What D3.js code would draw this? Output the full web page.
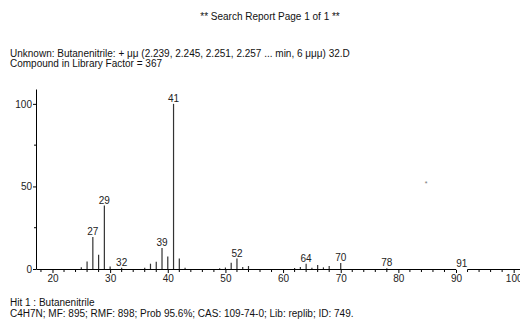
<!DOCTYPE html>
<html>
<head>
<meta charset="utf-8">
<script src="https://cdn.jsdelivr.net/npm/d3@7"></script>
<style>
  html, body { margin: 0; padding: 0; background: #fff; }
  svg { display: block; font-family: "Liberation Sans", Arial, sans-serif; }
  .axis path, .axis line { stroke: #000; }
  .axis text { fill: #222; font-size: 10px; }
</style>
</head>
<body>
<svg id="chart" width="520" height="320"></svg>
<script>
/* ── Data ───────────────────────────────────────────────────────── */
const masses      = [25, 26, 27, 28, 29, 30, 32, 36, 37, 38, 39, 40, 41, 42, 43, 49, 50, 51, 52, 53, 54, 62, 63, 64, 65, 66, 67, 68, 70, 78, 91];
const intensities = [1, 4.6, 19.4, 8.7, 38.4, 1.5, 0.8, 0.8, 3.2, 4.4, 12.7, 7.5, 100, 6.3, 0.8, 0.5, 0.9, 3.8, 6.3, 1.2, 1.8, 0.6, 1.2, 3.2, 0.8, 2.4, 1.0, 1.8, 3.6, 0.5, 0.3];
const labelled    = [27, 29, 32, 39, 41, 52, 64, 70, 78, 91];
const xMajor      = [20, 30, 40, 50, 60, 70, 80, 90, 100];
const yMajor      = [0, 50, 100];
const yMinor      = [25, 75];

const titleText = "** Search Report Page 1 of 1 **";
const headLines = ["Unknown: Butanenitrile: + \u03bc\u03bc (2.239, 2.245, 2.251, 2.257 ... min, 6 \u03bc\u03bc\u03bc) 32.D",
                   "Compound in Library Factor = 367"];
const footLines = ["Hit 1 : Butanenitrile",
                   "C4H7N; MF: 895; RMF: 898; Prob 95.6%; CAS: 109-74-0; Lib: replib; ID: 749."];

/* ── Layout ──────────────────────────────────────────────────────── */
const X0 = 36, X1 = 520;     // plot left / right in px
const Y0 = 269, Y1 = 89;     // baseline / axis top in px
const FONT = 10;

const svg = d3.select('#chart');

const x = d3.scaleLinear().domain([17.14, 101.1]).range([X0, X1]);
const y = d3.scaleLinear().domain([0, 109]).range([Y0, Y1]);

/* ── Header / footer text ────────────────────────────────────────── */
svg.append('text')
  .attr('x', 270).attr('y', 20)
  .attr('text-anchor', 'middle')
  .attr('font-size', FONT)
  .attr('fill', '#111')
  .text(titleText);

headLines.forEach((t, i) =>
  svg.append('text')
    .attr('x', 10).attr('y', 57 + i * 10)
    .attr('font-size', FONT).attr('fill', '#111')
    .text(t));

footLines.forEach((t, i) =>
  svg.append('text')
    .attr('x', 10).attr('y', 306 + i * 11)
    .attr('font-size', FONT).attr('fill', '#111')
    .text(t));

/* ── Peaks ───────────────────────────────────────────────────────── */
const peaks = masses.map((m, i) => ({ m, v: intensities[i] }));

svg.append('g').selectAll('line')
  .data(peaks)
  .join('line')
  .attr('x1', d => x(d.m)).attr('x2', d => x(d.m))
  .attr('y1', y(0)).attr('y2', d => y(d.v))
  .attr('stroke', '#333')
  .attr('stroke-width', 1.2);

/* ── Axes ────────────────────────────────────────────────────────── */
// x: major ticks with labels, minor every 2 units
const xMinor = d3.range(18, 101, 2).filter(v => !xMajor.includes(v));
const gx = svg.append('g').attr('class', 'axis').attr('transform', `translate(0,${Y0})`);
gx.call(d3.axisBottom(x).tickValues(xMajor).tickSize(4).tickSizeOuter(0).tickPadding(2));
gx.append('g').selectAll('line')
  .data(xMinor).join('line')
  .attr('x1', d => x(d)).attr('x2', d => x(d))
  .attr('y1', 0).attr('y2', 3)
  .attr('stroke', '#000');

const gy = svg.append('g').attr('class', 'axis').attr('transform', `translate(${X0},0)`);
gy.call(d3.axisLeft(y).tickValues(yMajor).tickSize(3).tickSizeOuter(0).tickPadding(1));
gy.append('g').selectAll('line')
  .data(yMinor).join('line')
  .attr('x1', 0).attr('x2', -2)
  .attr('y1', d => y(d)).attr('y2', d => y(d))
  .attr('stroke', '#000');

/* ── Peak labels ─────────────────────────────────────────────────── */
const lab = svg.append('g');
labelled.forEach(m => {
  const p = peaks.find(d => d.m === m);
  const ly = y(p.v) - 2;
  if (m === 91) {
    // label box masks the axis line under it, as in the original
    lab.append('rect')
      .attr('x', x(m) - 5.5).attr('y', ly - 8)
      .attr('width', 11).attr('height', y(0) - ly + 9)
      .attr('fill', '#fff');
  }
  lab.append('text')
    .attr('x', x(m)).attr('y', ly)
    .attr('text-anchor', 'middle')
    .attr('font-size', FONT).attr('fill', '#222')
    .text(m);
});

/* ── Stray marker ────────────────────────────────────────────────── */
svg.append('text')
  .attr('x', x(84.8)).attr('y', y(50.5))
  .attr('text-anchor', 'middle')
  .attr('font-size', 7).attr('fill', '#777')
  .text('*');
</script>
</body>
</html>
